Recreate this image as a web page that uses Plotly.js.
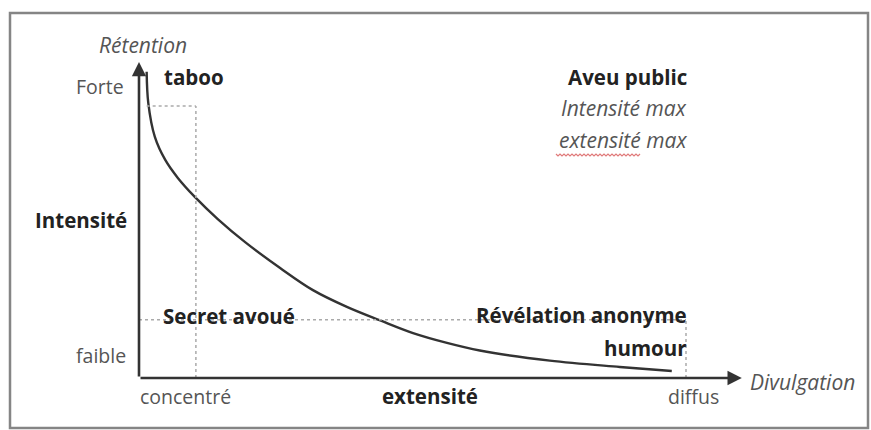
<!DOCTYPE html>
<html>
<head>
<meta charset="utf-8">
<script src="https://cdn.plot.ly/plotly-3.0.1.min.js"></script>
<style>html,body{margin:0;padding:0;background:#fff}#chart{width:871px;height:430px}</style>
</head>
<body>
<div id="chart"></div>
<script>
// Curve: retention (intensity) vs divulgation (extensity)
const curveX = [0.14, 0.17, 0.29, 0.48, 0.71, 1.02, 1.44, 1.94, 2.58, 3.18, 3.80, 4.41, 5.01, 5.63, 6.23, 7.51, 8.79, 9.74];
const curveY = [9.69, 8.70, 7.63, 6.90, 6.33, 5.73, 5.03, 4.30, 3.48, 2.78, 2.25, 1.82, 1.42, 1.11, 0.87, 0.55, 0.35, 0.22];
// Guide points (dotted reference lines): taboo corner and anonymous revelation corner
const guideX = [1.04, 10.0];
const guideY = [8.61, 1.84];
// Axis extents (arrow tips)
const axisMaxX = 11.02;
const axisMaxY = 10.0;
// Text labels
const yTitle = "Rétention";
const xTitle = "Divulgation";
const yTicks = ["Forte", "Intensité", "faible"];
const xTicks = ["concentré", "extensité", "diffus"];

// pixel helpers for layout placement
const SX = 54.7, SY = 31.6, OX = 139, OY = 378;
const X = p => (p - OX) / SX;
const Y = p => (OY - p) / SY;

const FONT = "Open Sans, Noto Sans, sans-serif";
const dark = "#222", grey = "#555";
const RS = 19.5, BS = 20.5, IS = 21;

const traces = [{
  x: curveX, y: curveY, mode: "lines", type: "scatter",
  line: {color: "#333", width: 2.4, shape: "spline", smoothing: 1},
  hoverinfo: "skip", showlegend: false
}];

const dot = {color: "#aaa", width: 1.5, dash: "dot"};
const shapes = [
  // frame
  {type: "rect", xref: "x", yref: "y", x0: X(10), x1: X(868), y0: Y(428), y1: Y(13), line: {color: "#858585", width: 2.5}},
  // dotted guides
  {type: "line", xref: "x", yref: "y", x0: curveX[0], x1: guideX[0], y0: guideY[0], y1: guideY[0], line: dot},
  {type: "line", xref: "x", yref: "y", x0: guideX[0], x1: guideX[0], y0: 0, y1: guideY[0], line: dot},
  {type: "line", xref: "x", yref: "y", x0: 0, x1: guideX[1], y0: guideY[1], y1: guideY[1], line: dot},
  {type: "line", xref: "x", yref: "y", x0: guideX[1], x1: guideX[1], y0: 0, y1: guideY[1], line: dot}
];

// red wavy underline under "extensité"
(function(){
  let path = "";
  const x0 = 556, x1 = 640, yb = 155;
  let i = 0;
  for (let p = x0; p <= x1; p += 2, i++) {
    const yy = yb + (i % 2 === 0 ? -1 : 1);
    path += (i === 0 ? "M" : "L") + X(p).toFixed(4) + "," + Y(yy).toFixed(4) + " ";
  }
  shapes.push({type: "path", xref: "x", yref: "y", path: path, line: {color: "#e07a7a", width: 1.2}});
})();

function txt(text, px, py, size, color, anchor, style, weight) {
  return {text: text, x: X(px), y: Y(py), xref: "x", yref: "y", showarrow: false,
    xanchor: anchor, yanchor: "middle",
    font: {family: FONT, size: size, color: color, style: style || "normal", weight: weight || "normal"}};
}

const annotations = [
  // axis arrows
  {x: 0, y: axisMaxY, ax: 0, ay: 0, xref: "x", yref: "y", axref: "x", ayref: "y", text: "", showarrow: true,
    arrowhead: 2, arrowsize: 1.1, arrowwidth: 2.6, arrowcolor: "#333", standoff: 0},
  {x: axisMaxX, y: 0, ax: 0, ay: 0, xref: "x", yref: "y", axref: "x", ayref: "y", text: "", showarrow: true,
    arrowhead: 2, arrowsize: 1.1, arrowwidth: 2.6, arrowcolor: "#333", standoff: 0},
  txt(yTitle, 143, 45, IS, grey, "center", "italic"),
  txt(xTitle, 748, 382, IS, grey, "left", "italic"),
  txt(yTicks[0], 126, 86, RS, grey, "right"),
  txt(yTicks[1], 129, 220, BS, dark, "right", "normal", "bold"),
  txt(yTicks[2], 128, 355, RS, grey, "right"),
  txt(xTicks[0], 185, 396, RS, grey, "center"),
  txt(xTicks[1], 430, 396, BS, dark, "center", "normal", "bold"),
  txt(xTicks[2], 693, 396, RS, grey, "center"),
  txt("taboo", 162, 77, BS, dark, "left", "normal", "bold"),
  txt("Aveu public", 689, 77, BS, dark, "right", "normal", "bold"),
  txt("Intensité max", 689, 108, IS, grey, "right", "italic"),
  txt("extensité max", 689, 140, IS, grey, "right", "italic"),
  txt("Secret avoué", 229, 316, BS, dark, "center", "normal", "bold"),
  txt("Révélation anonyme", 689, 315, BS, dark, "right", "normal", "bold"),
  txt("humour", 689, 348, BS, dark, "right", "normal", "bold")
];

const layout = {
  width: 871, height: 430,
  margin: {l: 0, r: 0, t: 0, b: 0},
  paper_bgcolor: "#fff", plot_bgcolor: "#fff",
  xaxis: {range: [X(0), X(871)], visible: false, fixedrange: true},
  yaxis: {range: [Y(430), Y(0)], visible: false, fixedrange: true},
  shapes: shapes, annotations: annotations, showlegend: false
};

Plotly.newPlot("chart", traces, layout, {displayModeBar: false, staticPlot: true});
</script>
</body>
</html>
